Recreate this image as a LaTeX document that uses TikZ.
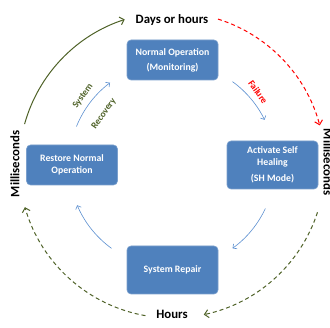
\documentclass[tikz,border=0pt]{standalone}
\usepackage{fontspec}
\setmainfont{Carlito}
\usetikzlibrary{arrows.meta,calc}
\definecolor{boxblue}{HTML}{4F81BD}
\definecolor{boxedge}{HTML}{7BA0CD}
\definecolor{arrowblue}{HTML}{5B8FD0}
\definecolor{olive}{HTML}{4F6228}
\tikzset{
  procbox/.style={rectangle, rounded corners=4pt, fill=boxblue, draw=boxedge, line width=0.6pt,
    text=white, font=\bfseries\fontsize{9.8}{12}\selectfont, align=center,
    minimum width=91pt, inner sep=2pt},
  inarc/.style={draw=arrowblue, line width=0.6pt, -{Straight Barb[length=3pt,width=6pt,line width=0.6pt]}},
  outlabel/.style={font=\bfseries\fontsize{12.8}{15}\selectfont, text=black},
  arclabel/.style={font=\bfseries\fontsize{9.4}{11}\selectfont},
  greensolid/.style={draw=olive, line width=1pt, -{Straight Barb[length=4pt,width=8pt,line width=1pt]}},
  greendash/.style={draw=olive, line width=1pt, dash pattern=on 4pt off 3pt, -{Straight Barb[length=4pt,width=8pt,line width=1pt]}},
  reddash/.style={draw=red, line width=1pt, dash pattern=on 4pt off 3pt, -{Straight Barb[length=4pt,width=8pt,line width=1pt]}}
}
\begin{document}
\begin{tikzpicture}[x=1pt,y=1pt]
\useasboundingbox (0,0) rectangle (330,328);
\coordinate (C) at (172,163);
% boxes
\node[procbox, minimum height=40pt] (normal) at (172.5,268) {Normal Operation\\[3pt](Monitoring)};
\node[procbox, minimum height=40pt] (restore) at (72,163) {Restore Normal\\Operation};
\node[procbox, minimum height=48pt] (activate) at (272.5,163) {Activate Self\\Healing\\[4pt](SH Mode)};
\node[procbox, minimum height=48pt] (repair) at (172.5,58) {System Repair};
% outer labels
\node[outlabel] (days) at (172,308) {Days or hours};
\node[outlabel] (hours) at (172,14) {Hours};
\node[outlabel, rotate=90] (msl) at (15,164) {Milliseconds};
\node[outlabel, rotate=-90] (msr) at (328,166) {Milliseconds};
% inner arcs
\coordinate (i1) at ($(C)+(54:103)$);
\coordinate (i2) at ($(C)+(-25:103)$);
\coordinate (i3) at ($(C)+(-126:103)$);
\coordinate (i4) at ($(C)+(158:103)$);
\draw[inarc] (i1) arc[start angle=54, end angle=26, radius=103];
\draw[inarc] (i2) arc[start angle=-25, end angle=-54, radius=103];
\draw[inarc] (i3) arc[start angle=234, end angle=203, radius=103];
\draw[inarc] (i4) arc[start angle=158, end angle=127, radius=103];
% outer arcs
\coordinate (o1) at ($(C)+(164.5:153)$);
\coordinate (o2) at ($(C)+(72.5:153)$);
\coordinate (o3) at ($(C)+(-18:153)$);
\coordinate (o4) at ($(C)+(260:153)$);
\draw[greensolid] (o1) arc[start angle=164.5, end angle=108, radius=153];
\draw[reddash] (o2) arc[start angle=72.5, end angle=15, radius=153];
\draw[greendash] (o3) arc[start angle=-18, end angle=-78, radius=153];
\draw[greendash] (o4) arc[start angle=260, end angle=196, radius=153];
% arc labels
\node[arclabel, text=olive, rotate=55] (sys) at (83,232) {System};
\node[arclabel, text=olive, rotate=55] (rec) at (104,214) {Recovery};
\node[arclabel, text=red, rotate=-55] (fail) at (258,236) {Failure};
\end{tikzpicture}
\end{document}
